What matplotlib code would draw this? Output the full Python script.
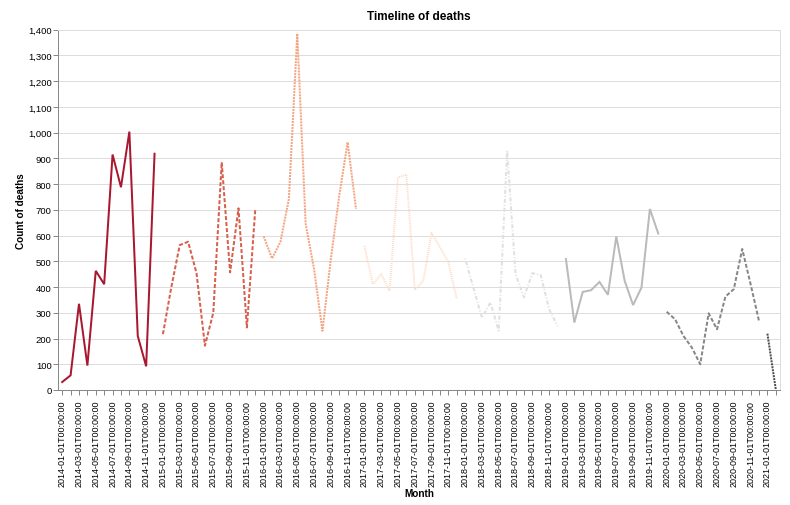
import pandas as pd
import matplotlib.pyplot as plt
from matplotlib.ticker import FuncFormatter

plt.rcParams["font.family"] = ["Liberation Sans", "DejaVu Sans"]
plt.rcParams["lines.scale_dashes"] = False

months = pd.date_range("2014-01-01", "2021-02-01", freq="MS")
month_labels = [m.strftime("%Y-%m-%dT%H:%M:%S") for m in months]

years = [2014, 2015, 2016, 2017, 2018, 2019, 2020, 2021]
deaths_by_year = {
    2014: [31, 57, 335, 95, 463, 411, 915, 788, 1004, 210, 92, 918],
    2015: [217, 400, 563, 576, 454, 172, 301, 885, 457, 706, 243, 703],
    2016: [597, 511, 576, 742, 1384, 645, 470, 230, 509, 755, 963, 703],
    2017: [560, 411, 450, 385, 826, 837, 389, 424, 610, 554, 496, 353],
    2018: [511, 395, 280, 340, 230, 930, 450, 360, 454, 446, 314, 249],
    2019: [509, 262, 381, 388, 420, 370, 597, 424, 330, 398, 703, 608],
    2020: [304, 275, 210, 165, 100, 298, 236, 363, 392, 548, 411, 268],
    2021: [219, 2],
}

# RdGy scheme, one colour per year
colors = ["#a81830", "#d6604d", "#f4a582", "#fddbc7",
          "#e0e0e0", "#bababa", "#878787", "#4d4d4d"]
# vega-lite default stroke dashes (in px), cycled
dash_px = [None, (4, 2), (2, 1), (1, 1), (1, 2, 4, 2)]

px = 0.72  # points per pixel at dpi 100

fig = plt.figure(figsize=(7.9, 5.06), dpi=100)
ax = fig.add_axes([58 / 790, 115 / 506, 722 / 790, 360.3 / 506])

start = 0
for i, year in enumerate(years):
    vals = deaths_by_year[year]
    xs = list(range(start, start + len(vals)))
    dash = dash_px[i % len(dash_px)]
    if dash is None:
        ls = "-"
    else:
        ls = (0, tuple(d * px for d in dash))
    ax.plot(xs, vals, color=colors[i], linewidth=2 * px, linestyle=ls,
            solid_joinstyle="miter", dash_capstyle="butt")
    start += len(vals)

ax.set_xlim(-0.5, len(month_labels) - 0.5)
ax.set_ylim(0, 1400)
ax.set_yticks(range(0, 1401, 100))
ax.yaxis.set_major_formatter(FuncFormatter(lambda v, p: f"{int(v):,}"))

ax.set_xticks(range(len(month_labels)))
ax.set_xticklabels([lab if k % 2 == 0 else "" for k, lab in enumerate(month_labels)],
                   rotation=90, fontsize=6.5, color="#000000")
ax.tick_params(axis="y", labelsize=6.8, pad=1)
ax.tick_params(axis="both", length=5 * px, width=1 * px, color="#888888")

ax.grid(axis="y", color="#dddddd", linewidth=1 * px)
ax.set_axisbelow(True)
ax.spines["left"].set_color("#888888")
ax.spines["bottom"].set_color("#888888")
ax.spines["top"].set_color("#dddddd")
ax.spines["right"].set_color("#dddddd")
for s in ax.spines.values():
    s.set_linewidth(1 * px)

ax.set_xlabel("Month", fontsize=7.2, fontweight="bold", labelpad=1)
ax.set_ylabel("Count of deaths", fontsize=7.2, fontweight="bold", labelpad=1)
ax.set_title("Timeline of deaths", fontsize=8.5, fontweight="bold", pad=8)

plt.savefig("out.png")
plt.close()
